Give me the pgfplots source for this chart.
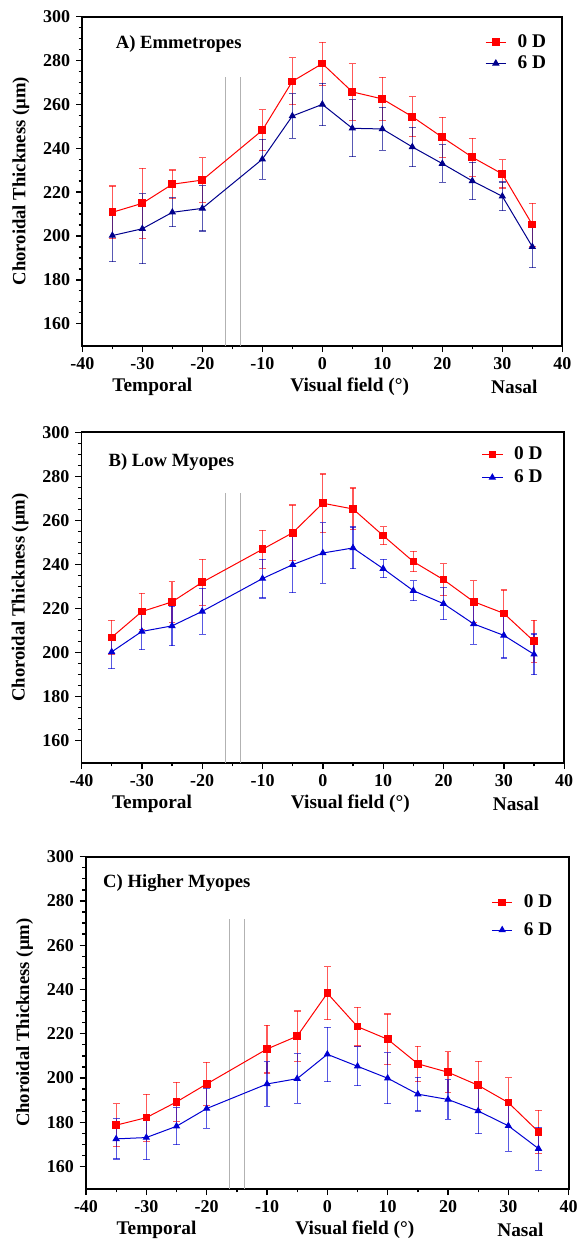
\documentclass[border=0pt]{standalone}
\usepackage{fontspec}
\setmainfont{Liberation Serif}
\usepackage{pgfplots}
\pgfplotsset{compat=1.18}

\definecolor{rd}{RGB}{255,0,0}
\definecolor{navyA}{RGB}{0,0,140}
\definecolor{blu}{RGB}{0,0,210}

\tikzset{paneltitle/.style={anchor=west, font=\fontsize{11.2}{13}\selectfont\bfseries}}

\pgfplotsset{
  panel/.style={
    scale only axis,
    anchor=north west,
    xmin=-40, xmax=40, ymin=150, ymax=300,
    xtick={-40,-30,...,40}, ytick={160,180,...,300},
    minor x tick num=1, minor y tick num=3,
    xtick pos=left, ytick pos=left,
    tick align=outside,
    major tick length=3.8pt, minor tick length=2.2pt,
    every tick/.style={black, line width=0.8pt},
    axis line style={line width=1.1pt},
    /pgf/number format/assume math mode=true,
    tick label style={font=\fontsize{10.8}{12}\selectfont\bfseries},
    ylabel={Choroidal Thickness (µm)},
    ylabel style={at={(axis description cs:0,0.5)}, anchor=center, yshift=36.8pt,
      font=\fontsize{11.2}{13}\selectfont\bfseries},
    legend cell align=left,
    legend image code/.code={\draw[mark repeat=2,mark phase=2] plot coordinates {(0cm,0cm) (0.215cm,0cm) (0.43cm,0cm)};},
    legend style={draw=none, fill=none, at={(rel axis cs:1,1)}, anchor=north east,
      font=\fontsize{11.6}{13}\selectfont\bfseries, inner sep=0pt,
      nodes={inner sep=0pt},
      /tikz/every odd column/.append style={column sep=6.6pt}},
    extra description/.code={
      \node[font=\fontsize{11.6}{13}\selectfont\bfseries] at ([yshift=-24.6pt]axis description cs:0.146,0) {Temporal};
      \node[font=\fontsize{11.6}{13}\selectfont\bfseries] at ([yshift=-24.6pt]axis description cs:0.557,0) {Visual field (°)};
      \node[font=\fontsize{11.6}{13}\selectfont\bfseries] at ([yshift=-24.6pt]axis description cs:0.90,0) {Nasal};
    },
  },
  zeroD/.style={rd, line width=0.6pt, mark=square*, mark size=2pt,
    error bars/.cd, y dir=both, y explicit,
    error bar style={line width=0.7pt, rd, opacity=0.65},
    error mark options={rotate=90, mark size=2pt, line width=0.7pt, rd, opacity=0.65}},
  sixD/.style={#1, line width=0.6pt, mark=triangle*, mark size=2pt,
    error bars/.cd, y dir=both, y explicit,
    error bar style={line width=0.7pt, #1, opacity=0.65},
    error mark options={rotate=90, mark size=2pt, line width=0.7pt, #1, opacity=0.65}},
  breakline/.style={gray!60, line width=0.6pt, forget plot},
}

\begin{document}
\begin{tikzpicture}
\useasboundingbox (0,0) rectangle (347.4pt,-745.8pt);

% ---------- A) Emmetropes ----------
\begin{axis}[panel, at={(49.4pt,-10.0pt)}, width=288pt, height=197.4pt,
  legend style={xshift=-9.6pt, yshift=-10.5pt, row sep=3.5pt}]
\addplot[breakline] coordinates {(-16.2,150) (-16.2,272.4)};
\addplot[breakline] coordinates {(-13.7,150) (-13.7,272.4)};
\addplot[zeroD] table[y error=e] {
x y e
-35 210.8 12.0
-30 214.9 16.0
-25 223.6 6.5
-20 225.5 10.2
-10 248.2 9.4
-5 270.5 10.7
0 278.6 9.8
5 265.7 12.9
10 262.5 9.8
15 254.4 9.2
20 245.0 9.1
25 235.9 8.7
30 228.3 6.4
35 205.2 9.8
};
\addplot[sixD=navyA] table[y error=e] {
x y e
-35 200.2 11.9
-30 203.3 16.0
-25 210.8 6.6
-20 212.6 10.3
-10 235.0 9.1
-5 254.7 10.2
0 260.0 9.7
5 249.1 13.0
10 248.8 9.8
15 240.6 9.0
20 233.0 8.6
25 225.1 8.5
30 218.1 6.5
35 195.1 9.5
};
\legend{0 D, 6 D}
\node[paneltitle, xshift=16.6pt, yshift=-16.6pt] at (rel axis cs:0,1) {A) Emmetropes};
\end{axis}

% ---------- B) Low Myopes ----------
\begin{axis}[panel, at={(48.9pt,-259.4pt)}, width=289.6pt, height=198.2pt,
  legend style={xshift=-12.8pt, yshift=-8.5pt, row sep=4.6pt}]
\addplot[breakline] coordinates {(-16.2,150) (-16.2,272.4)};
\addplot[breakline] coordinates {(-13.7,150) (-13.7,272.4)};
\addplot[zeroD] table[y error=e] {
x y e
-35 206.9 7.7
-30 218.6 8.3
-25 223.0 9.2
-20 231.9 10.4
-10 246.9 8.6
-5 254.4 12.6
0 267.8 13.3
5 265.2 9.5
10 253.1 4.1
15 241.3 4.6
20 233.1 7.3
25 223.1 9.6
30 217.8 10.6
35 205.1 9.5
};
\addplot[sixD=blu] table[y error=e] {
x y e
-35 200.3 7.7
-30 209.6 8.3
-25 212.1 9.0
-20 218.7 10.4
-10 233.6 8.8
-5 239.9 12.7
0 245.2 13.7
5 247.5 9.5
10 238.1 4.2
15 228.1 4.6
20 222.2 7.3
25 213.0 9.3
30 207.8 10.3
35 199.2 9.2
};
\legend{0 D, 6 D}
\node[paneltitle, xshift=12.7pt, yshift=-17.6pt] at (rel axis cs:0,1) {B) Low Myopes};
\end{axis}

% ---------- C) Higher Myopes ----------
\begin{axis}[panel, at={(51.6pt,-514.0pt)}, width=289.6pt, height=199.2pt,
  legend style={xshift=-9.6pt, yshift=-22.6pt, row sep=7.4pt}]
\addplot[breakline] coordinates {(-16.2,150) (-16.2,271.7)};
\addplot[breakline] coordinates {(-13.8,150) (-13.8,271.7)};
\addplot[zeroD] table[y error=e] {
x y e
-35 178.7 9.7
-30 182.1 10.6
-25 189.2 8.8
-20 197.3 9.8
-10 213.1 10.8
-5 218.9 11.4
0 238.3 11.9
5 223.2 8.7
10 217.5 11.4
15 206.4 8.0
20 202.6 9.2
25 196.7 10.8
30 188.9 11.3
35 175.7 9.8
};
\addplot[sixD=blu] table[y error=e] {
x y e
-35 172.5 9.1
-30 173.1 10.1
-25 178.2 8.4
-20 186.2 9.0
-10 197.3 10.0
-5 199.7 11.2
0 210.7 12.3
5 205.3 8.8
10 199.9 11.5
15 192.7 7.6
20 190.3 9.0
25 185.1 10.2
30 178.4 11.6
35 168.1 9.7
};
\legend{0 D, 6 D}
\node[paneltitle, xshift=6.8pt, yshift=-15.6pt] at (rel axis cs:0,1) {C) Higher Myopes};
\end{axis}
\end{tikzpicture}
\end{document}
